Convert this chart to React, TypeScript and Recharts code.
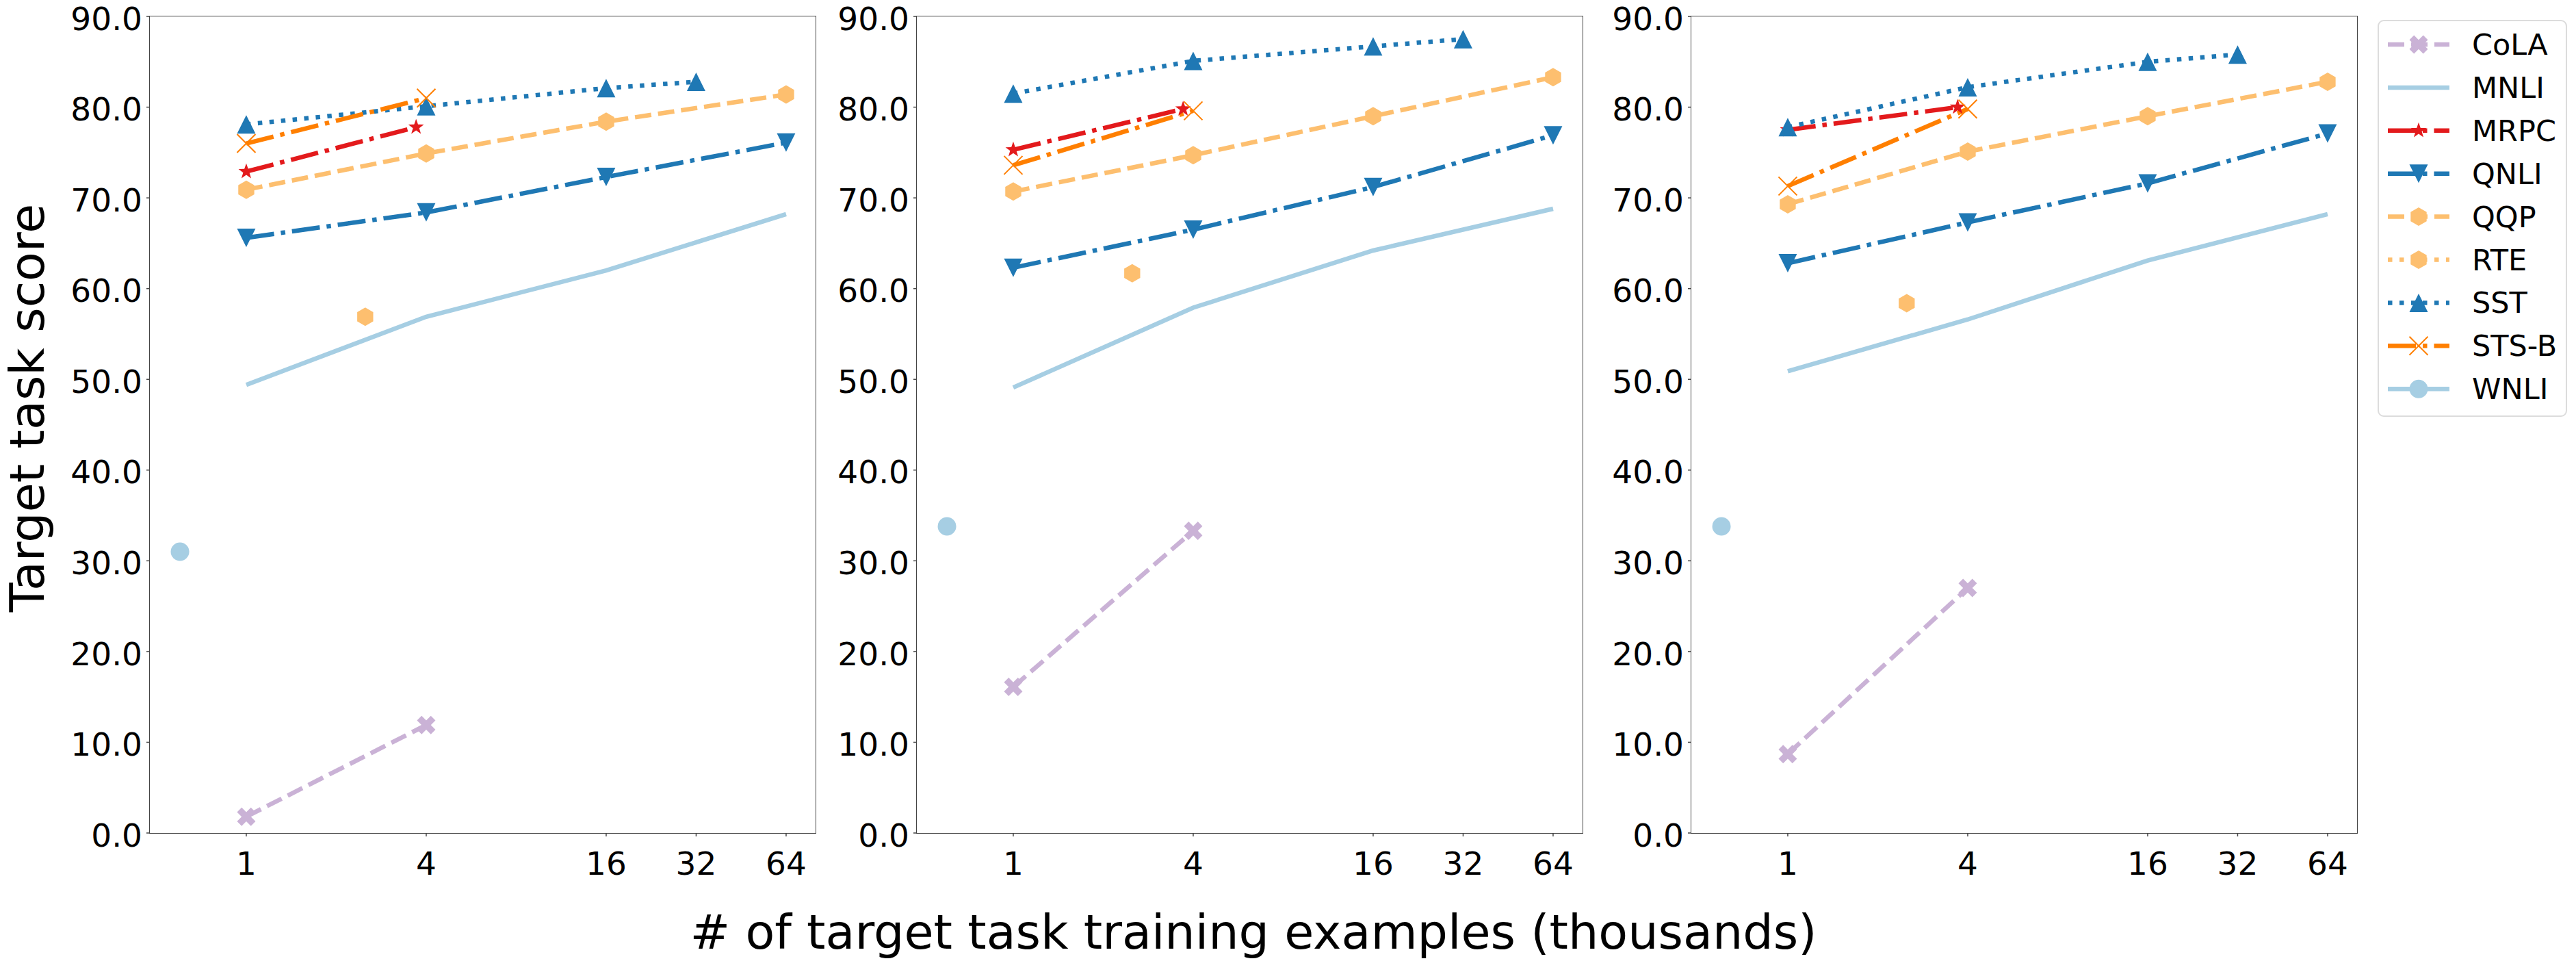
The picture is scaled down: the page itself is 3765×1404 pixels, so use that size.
import React from "react"
import { LineChart, Line, XAxis, YAxis } from "recharts"

// training set sizes (thousands) and target task scores, one row per panel
const taskNames = ["CoLA", "MNLI", "MRPC", "QNLI", "QQP", "RTE", "SST", "STS-B", "WNLI"]

const colaSizes = [1, 4]
const colaScores = [[1.8, 11.9], [16.1, 33.3], [8.7, 27.0]]
const mnliSizes = [1, 4, 16, 64]
const mnliScores = [[49.4, 56.9, 62.0, 68.2], [49.1, 57.9, 64.2, 68.8], [50.9, 56.6, 63.1, 68.2]]
const mrpcSizes = [1, 3.7]
const mrpcScores = [[72.9, 77.8], [75.3, 79.8], [77.5, 80.0]]
const qnliSizes = [1, 4, 16, 64]
const qnliScores = [[65.6, 68.4, 72.3, 76.1], [62.3, 66.5, 71.2, 76.9], [62.8, 67.3, 71.6, 77.1]]
const qqpSizes = [1, 4, 16, 64]
const qqpScores = [[70.9, 74.9, 78.4, 81.4], [70.7, 74.7, 79.0, 83.3], [69.3, 75.1, 79.0, 82.8]]
const rteSizes = [2.5]
const rteScores = [[56.9], [61.7], [58.4]]
const sstSizes = [1, 4, 16, 32]
const sstScores = [[78.1, 80.1, 82.1, 82.8], [81.5, 85.1, 86.7, 87.5], [77.8, 82.2, 85.0, 85.8]]
const stsbSizes = [1, 4]
const stsbScores = [[76.0, 81.0], [73.6, 79.6], [71.3, 79.8]]
const wnliSizes = [0.6]
const wnliScores = [[31.0], [33.8], [33.8]]

const xTicks = [1, 4, 16, 32, 64]
const yTicks = [0, 10, 20, 30, 40, 50, 60, 70, 80, 90]

const sizesByTask = [colaSizes, mnliSizes, mrpcSizes, qnliSizes, qqpSizes, rteSizes, sstSizes, stsbSizes, wnliSizes]
const scoresByTask = [colaScores, mnliScores, mrpcScores, qnliScores, qqpScores, rteScores, sstScores, stsbScores, wnliScores]

const DASHED = "24 10"
const DASHDOT = "41 10 6.5 10"
const DOTTED = "6.5 10.5"

const styles = [
  { color: "#cab2d6", dash: DASHED, marker: "Xf" },
  { color: "#a6cee3", dash: undefined, marker: "none" },
  { color: "#e31a1c", dash: DASHDOT, marker: "star" },
  { color: "#1f78b4", dash: DASHDOT, marker: "down" },
  { color: "#fdbf6f", dash: DASHED, marker: "hex" },
  { color: "#fdbf6f", dash: DOTTED, marker: "hex" },
  { color: "#1f78b4", dash: DOTTED, marker: "up" },
  { color: "#ff7f00", dash: DASHDOT, marker: "x" },
  { color: "#a6cee3", dash: undefined, marker: "circle" },
]

const FONT = "DejaVu Sans, sans-serif"
const PANEL_LEFTS = [219, 1340, 2472]
const PANEL_W = 973
const PLOT_TOP = 24
const PLOT_BOTTOM = 1217
const Y_AXIS_W = 130
const CHART_H = 1300
const X_DOMAIN = [0.4757, 80.3]

function Marker({ kind, color, cx, cy }: { kind: string; color: string; cx: number; cy: number }) {
  if (cx == null || cy == null || kind === "none") return null
  const s = 13.5
  if (kind === "circle") return <circle cx={cx} cy={cy} r={s} fill={color} />
  if (kind === "up" || kind === "down") {
    const d = kind === "up" ? 1 : -1
    const pts = [[0, -s * d], [-s, s * d], [s, s * d]]
    return <polygon points={pts.map(([a, b]) => `${cx + a},${cy + b}`).join(" ")} fill={color} />
  }
  if (kind === "hex") {
    const pts = [0, 1, 2, 3, 4, 5].map((i) => {
      const a = (Math.PI / 3) * i - Math.PI / 2
      return `${cx + s * Math.cos(a)},${cy + s * Math.sin(a)}`
    })
    return <polygon points={pts.join(" ")} fill={color} />
  }
  if (kind === "star") {
    const R = 12
    const r = R * 0.4
    const pts = Array.from({ length: 10 }, (_, i) => {
      const a = (Math.PI / 5) * i - Math.PI / 2
      const rr = i % 2 === 0 ? R : r
      return `${cx + rr * Math.cos(a)},${cy + rr * Math.sin(a)}`
    })
    return <polygon points={pts.join(" ")} fill={color} />
  }
  if (kind === "x") {
    return (
      <g stroke={color} strokeWidth={2}>
        <line x1={cx - s} y1={cy - s} x2={cx + s} y2={cy + s} />
        <line x1={cx - s} y1={cy + s} x2={cx + s} y2={cy - s} />
      </g>
    )
  }
  // filled X
  const u = [
    [-0.25, -0.5], [0, -0.25], [0.25, -0.5], [0.5, -0.25], [0.25, 0], [0.5, 0.25],
    [0.25, 0.5], [0, 0.25], [-0.25, 0.5], [-0.5, 0.25], [-0.25, 0], [-0.5, -0.25],
  ]
  return <polygon points={u.map(([a, b]) => `${cx + a * 2 * s},${cy + b * 2 * s}`).join(" ")} fill={color} />
}

function Panel({ panel }: { panel: number }) {
  const left = PANEL_LEFTS[panel]
  return (
    <div style={{ position: "absolute", left: left - Y_AXIS_W, top: 0 }}>
      <LineChart
        width={Y_AXIS_W + PANEL_W + 20}
        height={CHART_H}
        margin={{ top: PLOT_TOP, right: 20, left: 0, bottom: 0 }}
      >
        <XAxis
          type="number"
          dataKey="x"
          scale="log"
          domain={X_DOMAIN}
          allowDataOverflow
          ticks={xTicks}
          interval={0}
          height={CHART_H - PLOT_BOTTOM}
          axisLine={false}
          tickLine={{ stroke: "#444", strokeWidth: 1.5 }}
          tickSize={5}
          tickMargin={23}
          tick={{ fontSize: 47, fill: "#000", fontFamily: FONT }}
          tickFormatter={(v: number) => String(v)}
        />
        <YAxis
          type="number"
          domain={[0, 90]}
          allowDataOverflow
          ticks={yTicks}
          interval={0}
          width={Y_AXIS_W}
          axisLine={false}
          tickLine={{ stroke: "#444", strokeWidth: 1.5 }}
          tickSize={5}
          tickMargin={6}
          tick={{ fontSize: 47, fill: "#000", fontFamily: FONT, dy: 3 }}
          tickFormatter={(v: number) => v.toFixed(1)}
        />
        {taskNames.map((name, t) => {
          const st = styles[t]
          const data = sizesByTask[t].map((x, i) => ({ x, y: scoresByTask[t][panel][i] }))
          return (
            <Line
              key={name}
              data={data}
              dataKey="y"
              name={name}
              stroke={st.color}
              strokeWidth={6.5}
              strokeDasharray={st.dash}
              isAnimationActive={false}
              legendType="none"
              dot={(p: any) => (
                <g key={`${name}-${p.index}`}>
                  <Marker kind={st.marker} color={st.color} cx={p.cx} cy={p.cy} />
                </g>
              )}
              activeDot={false}
            />
          )
        })}
      </LineChart>
      <div
        style={{
          position: "absolute",
          left: Y_AXIS_W - 0.75,
          top: PLOT_TOP - 0.75,
          width: PANEL_W + 1.5,
          height: PLOT_BOTTOM - PLOT_TOP + 1.5,
          boxSizing: "border-box",
          border: "1.5px solid #444",
          pointerEvents: "none",
        }}
      />
    </div>
  )
}

function FigureText() {
  const legendTop = 30
  const step = 62.9
  return (
    <svg width={3765} height={1404} style={{ position: "absolute", left: 0, top: 0 }} fontFamily={FONT}>
      <text x={64} y={596} fontSize={70} textAnchor="middle" transform="rotate(-90 64 596)" fill="#000">
        Target task score
      </text>
      <text x={1832} y={1386} fontSize={70} textAnchor="middle" fill="#000">
        # of target task training examples (thousands)
      </text>
      <rect x={3476} y={legendTop} width={275} height={578} rx={8} fill="#fff" stroke="#dcdcdc" strokeWidth={2} />
      {taskNames.map((name, t) => {
        const st = styles[t]
        const y = legendTop + 35 + t * step
        return (
          <g key={name}>
            <line x1={3490} x2={3580} y1={y} y2={y} stroke={st.color} strokeWidth={6.5} strokeDasharray={st.dash} />
            <Marker kind={st.marker} color={st.color} cx={3535} cy={y} />
            <text x={3613} y={y + 15} fontSize={43} fill="#000">
              {name}
            </text>
          </g>
        )
      })}
    </svg>
  )
}

export default function App() {
  return (
    <div style={{ position: "absolute", left: 0, top: 0, width: 3765, height: 1404, background: "#fff", fontFamily: FONT }}>
      <FigureText />
      <Panel panel={0} />
      <Panel panel={1} />
      <Panel panel={2} />
    </div>
  )
}
